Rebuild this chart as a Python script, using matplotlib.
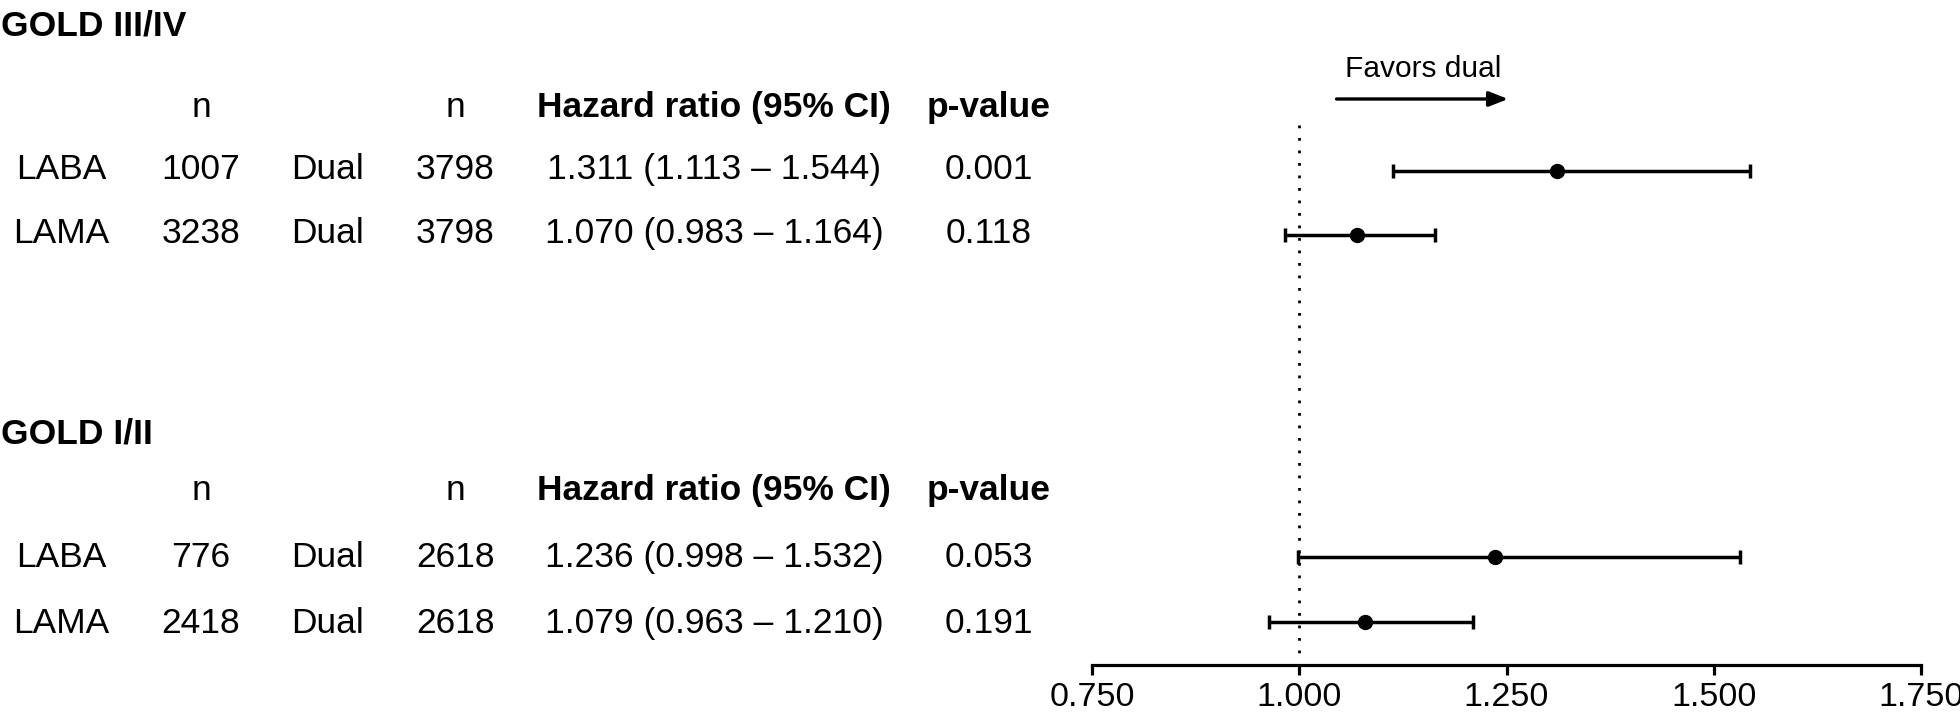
import numpy as np
import matplotlib
matplotlib.use("Agg")
from matplotlib import pyplot as plt

plt.rcParams['font.family'] = ['Liberation Sans', 'DejaVu Sans']

# data
groups = ["GOLD III/IV", "GOLD I/II"]
comparators = ["LABA", "LAMA", "LABA", "LAMA"]
n_comp = [1007, 3238, 776, 2418]
n_dual = [3798, 3798, 2618, 2618]
hr = [1.311, 1.070, 1.236, 1.079]
ci_lo = [1.113, 0.983, 0.998, 0.963]
ci_hi = [1.544, 1.164, 1.532, 1.210]
p_values = ["0.001", "0.118", "0.053", "0.191"]
x_ticks = [0.75, 1.0, 1.25, 1.5, 1.75]

W, H = 1960, 713
fig = plt.figure(figsize=(W / 100, H / 100), dpi=100)

# layout in pixels (top-left origin), text placed by baseline
axis_y = 665
group_base = [35, 444]
header_base = [117, 500]
row_base = [179, 243, 567, 633]
bar_y = [171, 235, 557, 622]
fs = 25.5


def ftext(x, y, s, **kw):
    kw.setdefault("fontsize", fs)
    kw.setdefault("va", "baseline")
    kw.setdefault("ha", "center")
    fig.text(x / W, 1 - y / H, s, **kw)


for g, gy, hy in zip(groups, group_base, header_base):
    ftext(1, gy, g, ha="left", fontweight="bold")
    ftext(201, hy, "n")
    ftext(455, hy, "n")
    ftext(714, hy, "Hazard ratio (95% CI)", fontweight="bold")
    ftext(989, hy, "p-value", fontweight="bold")

for i, y in enumerate(row_base):
    ftext(61, y, comparators[i])
    ftext(201, y, str(n_comp[i]))
    ftext(327, y, "Dual")
    ftext(455, y, str(n_dual[i]))
    ftext(714, y, f"{hr[i]:.3f} ({ci_lo[i]:.3f} \u2013 {ci_hi[i]:.3f})")
    ftext(989, y, p_values[i])

# forest axes
x0, x1 = 1092, 1921
ax = fig.add_axes([x0 / W, 1 - axis_y / H, (x1 - x0) / W, axis_y / H])
ax.set_xlim(0.75, 1.75)
ax.set_ylim(axis_y, 0)
hr_a = np.array(hr)
err = [hr_a - np.array(ci_lo), np.array(ci_hi) - hr_a]
ax.errorbar(hr, bar_y, xerr=err, fmt="o", color="black", ms=10,
            elinewidth=2.5, capsize=5, capthick=2.5, zorder=3)
ax.plot([1.0, 1.0], [125, axis_y - 6], color="black", ls=(0, (1, 3.5)), lw=2, zorder=1)

ax.annotate("", xy=(1.252, 99), xytext=(1.045, 99),
            arrowprops=dict(arrowstyle="-|>,head_length=1.15,head_width=0.45",
                            color="black", lw=2.4, shrinkA=0, shrinkB=0))
ax.text(1.149, 77, "Favors dual", ha="center", va="baseline", fontsize=21.5)

for s in ["top", "right", "left"]:
    ax.spines[s].set_visible(False)
ax.spines["bottom"].set_linewidth(2.3)
ax.set_yticks([])
ax.set_xticks(x_ticks)
ax.set_xticklabels([f"{t:.3f}" for t in x_ticks])
ax.tick_params(axis="x", length=7, width=2.3, labelsize=24.5, pad=5)
ax.patch.set_alpha(0)
for t in ax.texts:
    t.set_clip_on(False)

fig.savefig("out.png", dpi=100)
